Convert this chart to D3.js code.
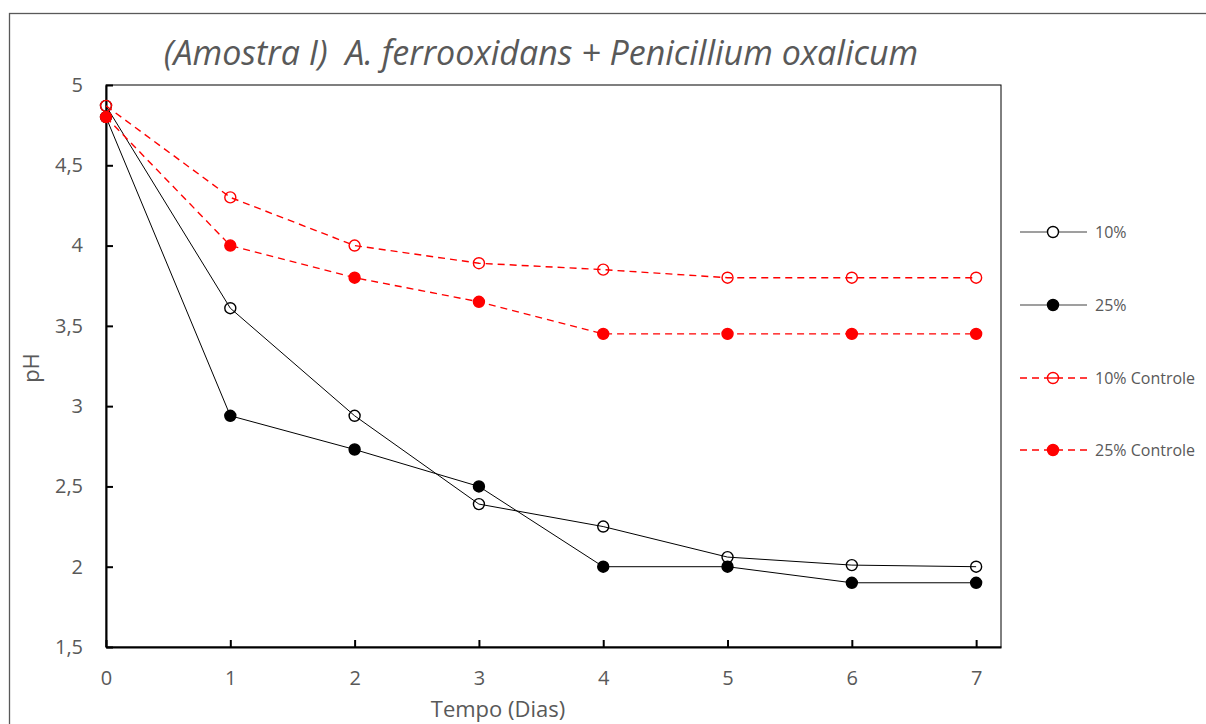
<!DOCTYPE html>
<html>
<head>
<meta charset="utf-8">
<script src="https://cdn.jsdelivr.net/npm/d3@7"></script>
<style>
  body { margin: 0; background: #fff; }
  text { font-family: "Open Sans", "Noto Sans", sans-serif; fill: #595959; }
</style>
</head>
<body>
<div id="chart"></div>
<script>
var W = 1206, H = 724;

// dias
var days = [0, 1, 2, 3, 4, 5, 6, 7];
// pH por serie
var ph10 = [4.87, 3.61, 2.94, 2.39, 2.25, 2.06, 2.01, 2.00];
var ph25 = [4.80, 2.94, 2.73, 2.50, 2.00, 2.00, 1.90, 1.90];
var ph10c = [4.87, 4.30, 4.00, 3.89, 3.85, 3.80, 3.80, 3.80];
var ph25c = [4.80, 4.00, 3.80, 3.65, 3.45, 3.45, 3.45, 3.45];
var xTicks = [0, 1, 2, 3, 4, 5, 6, 7];
var yTicks = [1.5, 2, 2.5, 3, 3.5, 4, 4.5, 5];
var seriesNames = ["10%", "25%", "10% Controle", "25% Controle"];

var series = [
  { name: seriesNames[0], values: ph10, color: "#000", filled: false, dash: null },
  { name: seriesNames[1], values: ph25, color: "#000", filled: true, dash: null },
  { name: seriesNames[2], values: ph10c, color: "#ff0000", filled: false, dash: "7,5" },
  { name: seriesNames[3], values: ph25c, color: "#ff0000", filled: true, dash: "7,5" }
];

var plot = { left: 106, top: 85, right: 1001, bottom: 647 };

var x = d3.scaleLinear().domain([0, 7.2]).range([plot.left, plot.right]);
var y = d3.scaleLinear().domain([1.5, 5]).range([plot.bottom, plot.top]);

var svg = d3.select("#chart").append("svg")
    .attr("width", W)
    .attr("height", H);

// moldura externa
svg.append("rect")
    .attr("x", 9.5).attr("y", 13.5)
    .attr("width", W + 10).attr("height", H + 10)
    .attr("fill", "none")
    .attr("stroke", "#595959")
    .attr("stroke-width", 1.3);

// titulo
svg.append("text")
    .attr("x", 541).attr("y", 65)
    .attr("text-anchor", "middle")
    .style("font-size", "34px")
    .style("font-style", "italic")
    .style("white-space", "pre")
    .text("(Amostra I)  A. ferrooxidans + Penicillium oxalicum");

// area do grafico
svg.append("rect")
    .attr("x", plot.left).attr("y", plot.top)
    .attr("width", plot.right - plot.left).attr("height", plot.bottom - plot.top)
    .attr("fill", "none")
    .attr("stroke", "#000")
    .attr("stroke-width", 1);

var fmt = function(d) { return String(d).replace(".", ","); };

var xAxis = svg.append("g")
    .attr("transform", "translate(0," + plot.bottom + ")")
    .call(d3.axisBottom(x).tickValues(xTicks).tickSizeInner(-7).tickSizeOuter(0).tickPadding(24).tickFormat(fmt));

var yAxis = svg.append("g")
    .attr("transform", "translate(" + plot.left + ",0)")
    .call(d3.axisLeft(y).tickValues(yTicks).tickSizeInner(-7).tickSizeOuter(0).tickPadding(23).tickFormat(fmt));

[xAxis, yAxis].forEach(function(a) {
  a.select(".domain").attr("stroke", "#000").attr("stroke-width", 2);
  a.selectAll(".tick line").attr("stroke", "#000").attr("stroke-width", 2);
  a.selectAll(".tick text")
      .style("font-size", "20px")
      .style("font-family", "\"Open Sans\", sans-serif")
      .attr("fill", "#595959");
});

// titulos dos eixos
svg.append("text")
    .attr("x", 498).attr("y", 717)
    .attr("text-anchor", "middle")
    .style("font-size", "22px")
    .text("Tempo (Dias)");

svg.append("text")
    .attr("transform", "translate(39,368) rotate(-90)")
    .attr("text-anchor", "middle")
    .style("font-size", "22px")
    .text("pH");

var line = d3.line()
    .x(function(d, i) { return x(days[i]); })
    .y(function(d) { return y(d); });

var g = svg.append("g");

series.forEach(function(s) {
  var sg = g.append("g");
  sg.selectAll("circle")
      .data(s.values)
      .enter()
      .append("circle")
      .attr("cx", function(d, i) { return x(days[i]); })
      .attr("cy", function(d) { return y(d); })
      .attr("r", 5.5)
      .attr("fill", s.filled ? s.color : "none")
      .attr("stroke", s.color)
      .attr("stroke-width", 1.4);

  sg.append("path")
      .datum(s.values)
      .attr("d", line)
      .attr("fill", "none")
      .attr("stroke", s.color)
      .attr("stroke-width", s.dash ? 1.4 : 1)
      .attr("stroke-dasharray", s.dash);
});

// legenda
var legend = svg.append("g");
var legY = [232, 305, 378, 450];

series.forEach(function(s, i) {
  var lg = legend.append("g").attr("transform", "translate(0," + legY[i] + ")");
  lg.append("line")
      .attr("x1", 1020).attr("x2", 1087)
      .attr("stroke", s.dash ? s.color : "#404040")
      .attr("stroke-width", s.dash ? 1.4 : 1.2)
      .attr("stroke-dasharray", s.dash);
  lg.append("circle")
      .attr("cx", 1053).attr("r", 5.5)
      .attr("fill", s.filled ? s.color : "#fff")
      .attr("stroke", s.color)
      .attr("stroke-width", 1.4);
  if (!s.filled && s.dash) {
    lg.append("line")
        .attr("x1", 1048).attr("x2", 1058)
        .attr("stroke", s.color).attr("stroke-width", 1.4);
  }
  lg.append("text")
      .attr("x", 1095).attr("y", 6)
      .style("font-size", "16px")
      .text(s.name);
});
</script>
</body>
</html>
